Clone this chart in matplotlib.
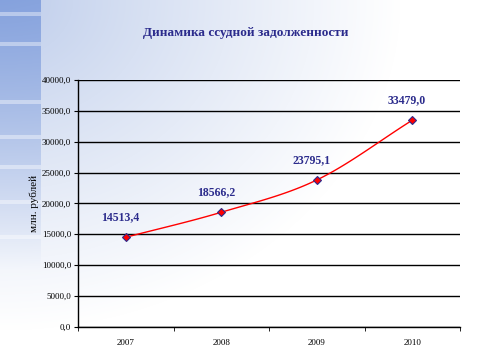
import numpy as np
import matplotlib.pyplot as plt

years = ['2007', '2008', '2009', '2010']
values = [14513.4, 18566.2, 23795.1, 33479.0]
value_labels = ['14513,4', '18566,2', '23795,1', '33479,0']

navy = '#2B2B8C'
serif = 'Liberation Serif'


def catmull_rom(xs, ys, n=30):
    # сглаженная линия как в Excel
    px = np.concatenate([[2 * xs[0] - xs[1]], xs, [2 * xs[-1] - xs[-2]]])
    py = np.concatenate([[2 * ys[0] - ys[1]], ys, [2 * ys[-1] - ys[-2]]])
    outx, outy = [], []
    for i in range(1, len(px) - 2):
        t = np.linspace(0, 1, n)
        for arr, out in ((px, outx), (py, outy)):
            p0, p1, p2, p3 = arr[i - 1], arr[i], arr[i + 1], arr[i + 2]
            out.extend(0.5 * (2 * p1 + (-p0 + p2) * t
                              + (2 * p0 - 5 * p1 + 4 * p2 - p3) * t ** 2
                              + (-p0 + 3 * p1 - 3 * p2 + p3) * t ** 3))
    return np.array(outx), np.array(outy)


fig = plt.figure(figsize=(4.8, 3.6), dpi=100)

# фон слайда
bg = fig.add_axes([0, 0, 1, 1])
h, w = 360, 480
yy, xx = np.mgrid[0:h, 0:w]
t = np.clip(np.sqrt((xx / 400) ** 2 + (yy / 330) ** 2), 0, 1) ** 0.9
c1 = np.array([0.74, 0.80, 0.92])
c2 = np.array([1.0, 1.0, 1.0])
img = c1 * (1 - t[..., None]) + c2 * t[..., None]
strip = xx < 41
k = np.clip(1 - yy / 270, 0, 1)[..., None] * 0.75
blue = np.array([0.45, 0.58, 0.85])
img = np.where(strip[..., None], img * (1 - k) + blue * k, img)
for y0 in (12, 42, 100, 135, 165, 200, 235):
    band = strip & (yy >= y0) & (yy < y0 + 4)
    img[band] = img[band] * 0.6 + 0.4
bg.imshow(img, aspect='auto', extent=[0, 1, 0, 1])
bg.axis('off')

ax = fig.add_axes([0.1625, 0.092, 0.796, 0.686])
ax.patch.set_alpha(0)
x = np.arange(len(years))
sx, sy = catmull_rom(x.astype(float), np.array(values))
ax.plot(sx, sy, color='red', lw=1)
ax.plot(x, values, linestyle='none', marker='D', markersize=4.5,
        markerfacecolor='red', markeredgecolor=navy, markeredgewidth=0.8)
for xi, v, lab in zip(x, values, value_labels):
    ax.annotate(lab, (xi, v), xytext=(-4, 10), textcoords='offset points',
                ha='center', va='bottom', color=navy, fontweight='bold',
                fontsize=8.5, family=serif)

ax.set_xlim(-0.5, 3.5)
ax.set_ylim(0, 40000)
ax.set_yticks(np.arange(0, 40001, 5000))
ax.set_yticklabels([f'{v:.1f}'.replace('.', ',') for v in np.arange(0, 40001, 5000)],
                   family=serif, fontsize=6.5)
ax.set_xticks(x)
ax.set_xticklabels(years, family=serif, fontsize=6.5)
ax.set_xticks(np.arange(-0.5, 3.6, 1), minor=True)
ax.tick_params(axis='x', which='major', length=0, pad=9)
ax.tick_params(axis='x', which='minor', length=3, color='black')
ax.tick_params(axis='y', length=3, pad=2)
ax.grid(axis='y', color='black', lw=1)
ax.set_axisbelow(True)
for s in ['top', 'right']:
    ax.spines[s].set_visible(False)
for s in ['left', 'bottom']:
    ax.spines[s].set_linewidth(1)
ax.set_ylabel('млн. рублей', family=serif, fontsize=8, labelpad=2)

fig.text(0.512, 0.908, 'Динамика ссудной задолженности', ha='center', va='center',
         color=navy, fontweight='bold', fontsize=9.5, family=serif)

fig.savefig('out.png', dpi=100)
